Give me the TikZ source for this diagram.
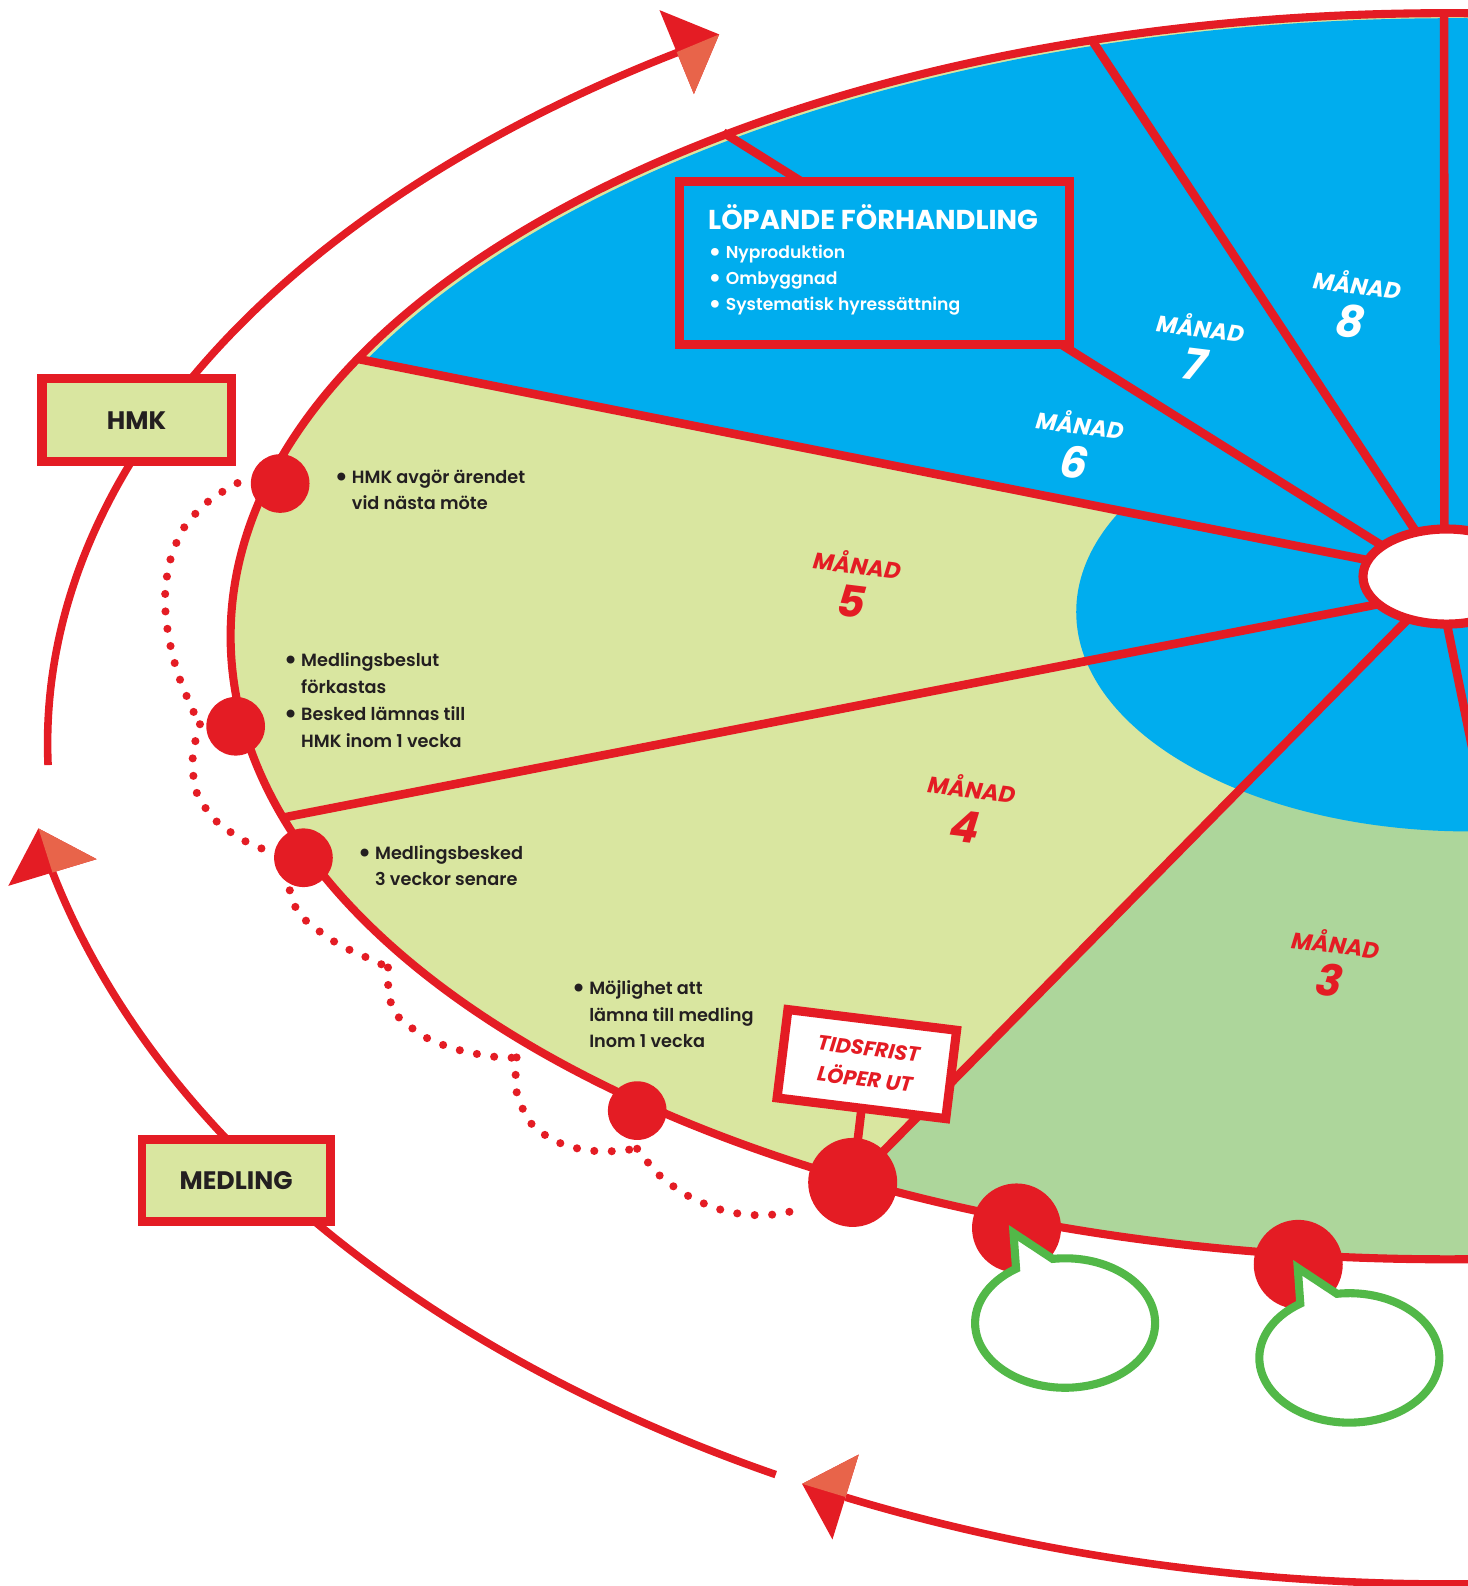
\documentclass[tikz,border=0pt]{standalone}
\usepackage{fontspec}
\setmainfont{Poppins}
\newfontfamily\medfont{Poppins SemiBold}
\usetikzlibrary{calc}

\definecolor{hmred}{RGB}{228,28,36}
\definecolor{hmorange}{RGB}{232,100,74}
\definecolor{hmblue}{RGB}{0,173,238}
\definecolor{hmlight}{RGB}{217,230,160}
\definecolor{hmgreen}{RGB}{173,214,155}
\definecolor{bubblegreen}{RGB}{82,184,72}
\definecolor{ink}{RGB}{35,31,32}

\newcommand\notebullet{\makebox[15.4pt][l]{\hspace*{-1.8pt}\raisebox{-3pt}{\scalebox{1.6}{\textbullet}}}}
\newcommand\noteindent{\hspace*{15.4pt}}
\newcommand\twotone[3]{%
  \fill[hmred] #1 -- #2 -- #3 -- cycle;
  \fill[hmorange] #1 -- ($#2!0.5!#3$) -- #3 -- cycle;}

\tikzset{
  spoke/.style={draw=hmred, line width=8.5pt},
  rim/.style={draw=hmred, line width=8pt},
  hub/.style={draw=hmred, fill=white, line width=9pt},
  cycleline/.style={draw=hmred, line width=7.5pt},
  dotline/.style={draw=hmred, line width=8pt, line cap=round, dash pattern=on 0pt off 17.3pt},
  dot/.style={circle, fill=hmred, minimum size=58pt, inner sep=0pt},
  bigdot/.style={dot, minimum size=88pt},
  labelbox/.style={draw=hmred, line width=9pt, fill=hmlight, text=ink, inner sep=0pt,
    font=\bfseries\fontsize{25}{30}\selectfont},
  note/.style={anchor=base west, inner sep=0pt, text=ink, font=\medfont\fontsize{17.5}{26.5}\selectfont},
  manad/.style={rotate=-7, inner sep=0pt, font=\bfseries\itshape\fontsize{22.5}{25}\selectfont},
  mnum/.style={rotate=-7, inner sep=0pt, font=\bfseries\itshape\fontsize{43}{44}\selectfont},
  bubble/.style={draw=bubblegreen, fill=white, line width=8pt, line join=miter}
}

\begin{document}
\begin{tikzpicture}[x=1pt, y=-1pt]
\useasboundingbox (0,0) rectangle (1451,1568);

% wheel
\fill[hmlight] (1431,629) ellipse [x radius=1203, y radius=616];
\begin{scope}
  \clip (1436,634) ellipse [x radius=1203, y radius=616];
  \fill[hmblue] (-10,-10) -- (-10,282.4) -- (1500,583.2) -- (1500,-10) -- cycle;
\end{scope}
\begin{scope}
  \clip (1431,629) ellipse [x radius=1203, y radius=616];
  \fill[hmgreen] (1443.4,560) -- (615.3,1400) -- (1500,1400) -- (1500,560) -- cycle;
\end{scope}
\fill[hmblue] (1453,605) ellipse [x radius=389, y radius=217];

\coordinate (bigc) at (843,1169);
\coordinate (tidsc) at (857,1052);

% spokes
\draw[spoke] (1427.7,13) -- (1428,540);
\draw[spoke] (1079.4,39.5) -- (1410,541);
\draw[spoke] (715,131) -- (1395,557.4);
\draw[spoke] (354.5,355) -- (1395,562.3);
\draw[spoke] (280,808.3) -- (1395,591);
\draw[spoke] (1400,604) -- (bigc);
\draw[spoke] (1426,595) -- (1474,830);
\draw[spoke] (bigc) -- (tidsc);

\draw[rim] (1431,629) ellipse [x radius=1203, y radius=616];
\draw[hub] (1430,570) ellipse [x radius=82.5, y radius=47];

% dotted path
\draw[dotline] plot[smooth] coordinates {(234.8,477.6) (206.5,495.2) (181.8,521.8) (167.7,556) (163.1,592.4) (166.6,628.7) (175.4,664.7) (188.8,698.2) (197.7,716)};
\draw[dotline] plot[smooth] coordinates {(197.7,716) (190.6,747) (194.2,783) (214.3,812.3) (243.6,832.3) (260.5,839.5)};
\draw[dotline] plot[smooth] coordinates {(286.5,880.2) (292.6,897.8) (304.7,912.2) (334.8,933.6) (367.7,948.9) (383.6,956.5)};
\draw[dotline] plot[smooth] coordinates {(383.6,956.5) (383.6,971.7) (385.9,989.4) (393.2,1004.8) (422.7,1026.6) (456.8,1038.9) (493.6,1045.4) (510.7,1045.4)};
\draw[dotline] plot[smooth] coordinates {(510.7,1045.4) (510.7,1079.4) (526.6,1112.5) (557.8,1131.8) (594,1138.4) (629.9,1135.7)};
\draw[dotline] plot[smooth] coordinates {(629.9,1135.7) (652.4,1162.4) (683.7,1184.2) (719.5,1197.9) (756.4,1201.5) (791.6,1195.8)};

% dots
\node[dot] (p1) at (277,478) {};
\node[dot] (p2) at (233,718) {};
\node[dot] (p3) at (300,848) {};
\node[dot] (p4) at (630,1098) {};
\node[bigdot] (big) at (bigc) {};
\node[bigdot] (p6) at (1005,1214) {};
\node[bigdot] (p7) at (1283.5,1250) {};

% speech bubbles
\foreach \bx/\by in {1053/1308, 1334/1342.5} {
  \begin{scope}[shift={(\bx,\by)}]
    \draw[bubble] (262.1:89 and 64) arc[start angle=262.1, end angle=597, x radius=89, y radius=64] -- (-51,-89) -- cycle;
  \end{scope}
}

% boxes
\node[draw=hmred, line width=9.3pt, fill=hmblue, minimum width=385.7pt, minimum height=160.7pt, inner sep=0pt] (lop) at (864.5,260) {};
\node[anchor=base west, inner sep=0pt, text=white, font=\bfseries\fontsize{27}{30}\selectfont] (loptitle) at (700,227) {LÖPANDE FÖRHANDLING};
\node[anchor=base west, inner sep=0pt, text=white, font=\medfont\fontsize{17}{26}\selectfont] (lopitems) at (702,255.3)
  {\begin{tabular}[t]{@{}l@{}}\notebullet Nyproduktion\\\notebullet Ombyggnad\\\notebullet Systematisk hyressättning\end{tabular}};

\node[draw=hmred, line width=9pt, fill=white, rotate=-7, minimum width=168pt, minimum height=88pt, inner sep=0pt,
  text=hmred, align=center, font=\bfseries\itshape\fontsize{20.5}{30.5}\selectfont] (tids) at (tidsc) {TIDSFRIST\\LÖPER UT};

% notes
\node[note] (n1) at (332.3,477.6) {\begin{tabular}[t]{@{}l@{}}\notebullet HMK avgör ärendet\\\noteindent vid nästa möte\end{tabular}};
\node[note] (n2) at (282.2,659.3) {\begin{tabular}[t]{@{}l@{}}\notebullet Medlingsbeslut\\\noteindent förkastas\\\notebullet Besked lämnas till\\\noteindent HMK inom 1 vecka\end{tabular}};
\node[note] (n3) at (355.3,849.4) {\begin{tabular}[t]{@{}l@{}}\notebullet Medlingsbesked\\\noteindent 3 veckor senare\end{tabular}};
\node[note] (n4) at (567,983) {\begin{tabular}[t]{@{}l@{}}\notebullet Möjlighet att\\\noteindent lämna till medling\\\noteindent Inom 1 vecka\end{tabular}};

% months
\node[manad, text=white] (m8) at (1342,280) {MÅNAD};
\node[mnum, text=white] (n8) at (1335,318) {8};
\node[manad, text=white] (m7) at (1187,322) {MÅNAD};
\node[mnum, text=white] (n7) at (1181,360) {7};
\node[manad, text=white] (m6) at (1068,418) {MÅNAD};
\node[mnum, text=white] (n6) at (1062,457) {6};
\node[manad, text=hmred] (m5) at (847.6,556.8) {MÅNAD};
\node[mnum, text=hmred] (n5) at (841.8,594.7) {5};
\node[manad, text=hmred] (m4) at (961,778) {MÅNAD};
\node[mnum, text=hmred] (n4) at (954,817) {4};
\node[manad, text=hmred] (m3) at (1320.6,931.8) {MÅNAD};
\node[mnum, text=hmred] (n3) at (1314.6,968.7) {3};

% outer arrows
\draw[cycleline] (1431,735) ++(178.5:1384 and 818) arc[start angle=178.5, end angle=236.7, x radius=1384, y radius=818];
\draw[cycleline] (1431,629) ++(117.8:1424 and 937) arc[start angle=117.8, end angle=165.6, x radius=1424, y radius=937];
\draw[cycleline] (1431,629) ++(84:1424 and 937) arc[start angle=84, end angle=114.7, x radius=1424, y radius=937];
\twotone{(711,34)}{(652,10)}{(686,93)}
\twotone{(38,819)}{(8.2,875.8)}{(95.6,849.4)}
\twotone{(793,1467)}{(823,1522)}{(849,1438)}

\node[labelbox, minimum width=187pt, minimum height=82pt] (hmk) at (135,415.5) {HMK};
\node[labelbox, line width=8.5pt, minimum width=186.3pt, minimum height=81pt] (medling) at (233.4,1167.3) {MEDLING};

\end{tikzpicture}
\end{document}
